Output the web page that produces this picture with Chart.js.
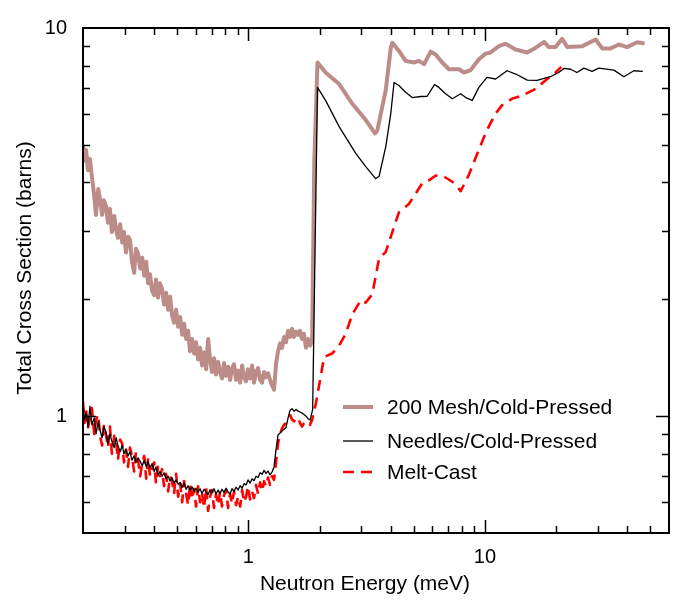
<!DOCTYPE html>
<html>
<head>
<meta charset="utf-8">
<script src="https://cdn.jsdelivr.net/npm/chart.js@4.4.1/dist/chart.umd.min.js"></script>
<style>
  body { margin: 0; background: #fff; }
  #wrap { width: 678px; height: 602px; }
</style>
</head>
<body>
<div id="wrap"><canvas id="xsChart" width="678" height="602"></canvas></div>
<script>
// energy grid for the noisy low-energy part (meV), shared by all three samples
var lowEnergy = [0.200, 0.203, 0.206, 0.210, 0.214, 0.218, 0.223, 0.227, 0.232, 0.236,
    0.241, 0.245, 0.250, 0.255, 0.260, 0.265, 0.271, 0.276, 0.281, 0.287,
    0.293, 0.298, 0.304, 0.310, 0.316, 0.322, 0.329, 0.335, 0.342, 0.349,
    0.356, 0.363, 0.370, 0.377, 0.384, 0.392, 0.400, 0.407, 0.415, 0.423,
    0.432, 0.440, 0.449, 0.458, 0.467, 0.476, 0.485, 0.495, 0.505, 0.515,
    0.525, 0.535, 0.546, 0.556, 0.567, 0.578, 0.590, 0.601, 0.613, 0.625,
    0.637, 0.650, 0.663, 0.676, 0.689, 0.702, 0.716, 0.730, 0.745, 0.759,
    0.774, 0.789, 0.805, 0.821, 0.837, 0.853, 0.870, 0.887, 0.905, 0.923,
    0.941, 0.959, 0.978, 0.997, 1.017, 1.037, 1.057, 1.078, 1.099, 1.121,
    1.143, 1.165, 1.188, 1.211, 1.235, 1.259, 1.284, 1.309, 1.335, 1.361,
    1.388, 1.415, 1.443, 1.472, 1.501, 1.530, 1.560, 1.591, 1.622, 1.654,
    1.686, 1.719, 1.753, 1.788, 1.823];

// 200 Mesh/Cold-Pressed (barns)
var meshLow = [5.00, 4.55, 4.85, 4.30, 4.60, 4.15, 3.70, 3.30, 3.85, 3.62,
    3.30, 3.60, 3.48, 3.15, 3.42, 2.98, 3.28, 3.02, 2.88, 3.12,
    2.80, 2.98, 2.64, 2.90, 2.85, 2.50, 2.34, 2.70, 2.62, 2.40,
    2.56, 2.30, 2.50, 2.20, 2.32, 2.10, 2.05, 2.25, 2.02, 2.20,
    2.12, 1.94, 2.08, 1.88, 2.03, 1.82, 1.74, 1.88, 1.70, 1.80,
    1.62, 1.73, 1.58, 1.66, 1.47, 1.58, 1.45, 1.55, 1.40, 1.50,
    1.35, 1.46, 1.32, 1.58, 1.40, 1.30, 1.41, 1.28, 1.38, 1.30,
    1.25, 1.37, 1.27, 1.34, 1.24, 1.33, 1.36, 1.24, 1.31, 1.22,
    1.35, 1.26, 1.23, 1.32, 1.25, 1.35, 1.22, 1.30, 1.33, 1.24,
    1.22, 1.30, 1.26, 1.29, 1.24, 1.20, 1.17, 1.36, 1.47, 1.54,
    1.50, 1.60, 1.55, 1.66, 1.60, 1.68, 1.60, 1.65, 1.62, 1.66,
    1.58, 1.63, 1.50, 1.58, 1.52];
var meshHighE = [1.86, 1.90, 1.96, 2.12, 2.42, 2.75, 3.13, 3.43, 3.51, 3.68,
    3.81, 4.00, 4.06, 4.33, 4.62, 5.01, 5.26, 5.53, 5.90, 6.19,
    6.60, 7.05, 7.77, 8.15, 8.70, 9.43, 10.07, 10.57, 11.46, 12.23,
    13.48, 15.1, 16.4, 17.8, 18.6, 19.9, 21.2, 22.3, 25.8, 29.4,
    31.3, 34.0, 36.8, 39.9, 44.0, 47.3];
var meshHigh = [1.55, 4.5, 8.15, 7.68, 7.17, 6.38, 5.80, 5.35, 5.45, 6.26,
    6.92, 8.9, 9.16, 8.73, 8.23, 8.15, 8.23, 8.07, 8.69, 8.55,
    8.15, 7.83, 7.83, 7.68, 7.79, 8.31, 8.59, 8.65, 8.98, 9.11,
    8.80, 8.65, 8.9, 9.21, 8.93, 8.93, 9.38, 8.93, 8.98, 9.34,
    8.86, 8.86, 9.07, 8.93, 9.19, 9.12];

// Needles/Cold-Pressed
var needleLow = [1.08, 0.98, 1.02, 0.94, 1.06, 0.95, 0.99, 0.90, 0.97, 0.92,
    0.88, 0.94, 0.91, 0.85, 0.90, 0.86, 0.83, 0.88, 0.84, 0.81,
    0.84, 0.80, 0.82, 0.79, 0.81, 0.77, 0.79, 0.76, 0.78, 0.765,
    0.745, 0.77, 0.74, 0.765, 0.735, 0.755, 0.72, 0.74, 0.705, 0.72,
    0.70, 0.715, 0.69, 0.70, 0.68, 0.695, 0.672, 0.685, 0.668, 0.675,
    0.655, 0.672, 0.648, 0.662, 0.645, 0.658, 0.640, 0.652, 0.636, 0.650,
    0.632, 0.648, 0.636, 0.628, 0.646, 0.634, 0.650, 0.630, 0.645, 0.632,
    0.648, 0.636, 0.652, 0.638, 0.630, 0.650, 0.640, 0.656, 0.645, 0.662,
    0.652, 0.670, 0.665, 0.685, 0.672, 0.690, 0.682, 0.700, 0.695, 0.715,
    0.708, 0.725, 0.712, 0.722, 0.706, 0.718, 0.740, 0.820, 0.895, 0.905,
    0.916, 0.925, 0.935, 0.990, 1.036, 1.045, 1.030, 1.040, 1.030, 1.025,
    1.018, 1.010, 1.000, 0.985, 0.977];
var needleHighE = [1.87, 1.96, 2.12, 2.42, 2.84, 3.13, 3.45, 3.57, 3.81, 4.00,
    4.13, 4.33, 4.62, 4.93, 5.35, 5.70, 6.12, 6.39, 6.82, 7.28,
    7.90, 8.30, 8.84, 9.43, 10.2, 11.1, 12.4, 13.5, 15.1, 16.6,
    18.9, 20.5, 21.6, 23.0, 24.5, 26.2, 28.4, 30.3, 35.1, 38.7,
    42.6, 46.5];
var needleHigh = [1.04, 7.03, 6.51, 5.57, 4.76, 4.40, 4.09, 4.15, 4.95, 6.02,
    7.24, 7.11, 6.83, 6.62, 6.66, 6.67, 7.15, 7.03, 6.77, 6.57,
    6.77, 6.62, 6.51, 7.03, 7.46, 7.39, 7.76, 7.61, 7.34, 7.33,
    7.49, 7.68, 7.87, 7.83, 7.68, 7.88, 7.73, 7.88, 7.79, 7.49,
    7.76, 7.73];

// Melt-Cast
var meltLow = [1.09, 0.96, 1.04, 0.93, 0.99, 1.05, 0.90, 0.98, 1.01, 0.89,
    0.84, 0.95, 0.90, 0.83, 0.94, 0.80, 0.89, 0.86, 0.77, 0.87,
    0.85, 0.76, 0.82, 0.74, 0.83, 0.79, 0.72, 0.81, 0.77, 0.70,
    0.76, 0.79, 0.69, 0.78, 0.70, 0.73, 0.76, 0.67, 0.74, 0.70,
    0.73, 0.66, 0.71, 0.64, 0.70, 0.68, 0.63, 0.71, 0.62, 0.67,
    0.60, 0.68, 0.63, 0.59, 0.67, 0.61, 0.65, 0.585, 0.66, 0.60,
    0.635, 0.58, 0.655, 0.57, 0.62, 0.645, 0.58, 0.63, 0.59, 0.64,
    0.585, 0.625, 0.645, 0.58, 0.63, 0.595, 0.64, 0.59, 0.62, 0.585,
    0.645, 0.60, 0.62, 0.66, 0.61, 0.64, 0.615, 0.665, 0.63, 0.675,
    0.64, 0.68, 0.66, 0.695, 0.665, 0.70, 0.685, 0.76, 0.85, 0.90,
    0.93, 0.95, 0.96, 0.99, 1.006, 0.98, 0.97, 0.99, 0.99, 0.96,
    0.94, 0.96, 0.97, 0.96, 0.95];
var meltHighE = [1.86, 1.93, 2.02, 2.09, 2.26, 2.42, 2.58, 2.75, 2.99, 3.13,
    3.34, 3.57, 3.81, 4.06, 4.33, 4.77, 5.10, 5.43, 5.80, 6.19,
    6.82, 7.40, 7.90, 8.56, 9.43, 10.2, 11.1, 11.8, 13.0, 14.4,
    16.4, 18.0, 19.9, 21.0];
var meltHigh = [0.978, 1.08, 1.26, 1.42, 1.45, 1.52, 1.63, 1.83, 1.99, 1.96,
    2.06, 2.55, 2.65, 2.98, 3.35, 3.52, 3.75, 3.98, 4.05, 4.17,
    4.12, 3.99, 3.80, 4.19, 4.86, 5.46, 6.02, 6.32, 6.57, 6.70,
    6.97, 7.32, 7.68, 7.94];

// axis ticks
var xTicks = [0.3, 0.4, 0.5, 0.6, 0.7, 0.8, 0.9, 1, 2, 3, 4, 5, 6, 7, 8, 9, 10, 20, 30, 40, 50];
var yTicks = [0.6, 0.7, 0.8, 0.9, 1, 2, 3, 4, 5, 6, 7, 8, 9];
var majorTicks = [1, 10];

var seriesNames = ['200 Mesh/Cold-Pressed', 'Needles/Cold-Pressed', 'Melt-Cast'];

var FONT = "'Liberation Sans', Arial, sans-serif";

function toPoints(xs, ys) {
    return xs.map(function (x, i) { return { x: x, y: ys[i] }; });
}

// inward tick marks on all four sides, frame, axis titles and legend
var framePlugin = {
    id: 'frame',
    afterDraw: function (chart) {
        var ctx = chart.ctx;
        var a = chart.chartArea;
        var xs = chart.scales.x, ys = chart.scales.y;
        ctx.save();
        ctx.strokeStyle = '#000';
        ctx.lineWidth = 1.5;
        ctx.beginPath();
        xTicks.forEach(function (v) {
            var p = Math.round(xs.getPixelForValue(v)) + 0.5;
            var len = majorTicks.indexOf(v) >= 0 ? 13 : 7;
            ctx.moveTo(p, a.bottom); ctx.lineTo(p, a.bottom - len);
            ctx.moveTo(p, a.top); ctx.lineTo(p, a.top + len);
        });
        yTicks.forEach(function (v) {
            var p = Math.round(ys.getPixelForValue(v)) + 0.5;
            var len = majorTicks.indexOf(v) >= 0 ? 13 : 7;
            ctx.moveTo(a.left, p); ctx.lineTo(a.left + len, p);
            ctx.moveTo(a.right, p); ctx.lineTo(a.right - len, p);
        });
        ctx.stroke();
        ctx.lineWidth = 2;
        ctx.strokeRect(a.left, a.top, a.right - a.left, a.bottom - a.top);

        // axis titles
        ctx.fillStyle = '#000';
        ctx.font = '21px ' + FONT;
        ctx.textAlign = 'center';
        ctx.textBaseline = 'middle';
        ctx.fillText('Neutron Energy (meV)', 365, 584);
        ctx.save();
        ctx.translate(25, 268);
        ctx.rotate(-Math.PI / 2);
        ctx.fillText('Total Cross Section (barns)', 0, 0);
        ctx.restore();

        // legend
        var rows = [407, 441, 472];
        ctx.textAlign = 'left';
        chart.data.datasets.forEach(function (ds, i) {
            ctx.save();
            ctx.strokeStyle = ds.borderColor;
            ctx.lineWidth = ds.borderWidth;
            ctx.setLineDash(ds.borderDash || []);
            ctx.beginPath();
            ctx.moveTo(343, rows[i]);
            ctx.lineTo(373, rows[i]);
            ctx.stroke();
            ctx.restore();
            ctx.fillText(ds.label, 387, rows[i] + 1);
        });
        ctx.restore();
    }
};

var ctx = document.getElementById('xsChart').getContext('2d');
var xsChart = new Chart(ctx, {
    type: 'line',
    data: {
        datasets: [{
            label: seriesNames[0],
            data: toPoints(lowEnergy.concat(meshHighE), meshLow.concat(meshHigh)),
            borderColor: '#bc8c89',
            borderWidth: 4,
            order: 2
        }, {
            label: seriesNames[1],
            data: toPoints(lowEnergy.concat(needleHighE), needleLow.concat(needleHigh)),
            borderColor: '#000000',
            borderWidth: 1.3,
            order: 0
        }, {
            label: seriesNames[2],
            data: toPoints(lowEnergy.concat(meltHighE), meltLow.concat(meltHigh)),
            borderColor: '#ff0000',
            borderWidth: 2.6,
            borderDash: [11, 7],
            order: 1
        }]
    },
    options: {
        responsive: false,
        animation: false,
        devicePixelRatio: 1,
        layout: { padding: { top: 20, right: 9, left: 0, bottom: 0 } },
        elements: {
            point: { radius: 0 },
            line: { tension: 0, fill: false, borderJoinStyle: 'round' }
        },
        plugins: {
            legend: { display: false },
            tooltip: { enabled: false }
        },
        scales: {
            x: {
                type: 'logarithmic',
                min: 0.2,
                max: 60,
                grid: { display: false, drawTicks: false },
                border: { display: false },
                afterBuildTicks: function (scale) {
                    scale.ticks = xTicks.map(function (v) { return { value: v }; });
                },
                afterFit: function (scale) { scale.height = 69; },
                ticks: {
                    autoSkip: false,
                    maxRotation: 0,
                    padding: 12,
                    color: '#000',
                    font: { family: FONT, size: 20 },
                    callback: function (v) { return majorTicks.indexOf(v) >= 0 ? String(v) : ''; }
                }
            },
            y: {
                type: 'logarithmic',
                min: 0.5,
                max: 10,
                grid: { display: false, drawTicks: false },
                border: { display: false },
                afterBuildTicks: function (scale) {
                    scale.ticks = yTicks.concat([10]).map(function (v) { return { value: v }; });
                },
                afterFit: function (scale) { scale.width = 83; },
                ticks: {
                    autoSkip: false,
                    padding: 16,
                    color: '#000',
                    font: { family: FONT, size: 20 },
                    callback: function (v) { return majorTicks.indexOf(v) >= 0 ? String(v) : ''; }
                }
            }
        }
    },
    plugins: [framePlugin]
});
</script>
</body>
</html>
